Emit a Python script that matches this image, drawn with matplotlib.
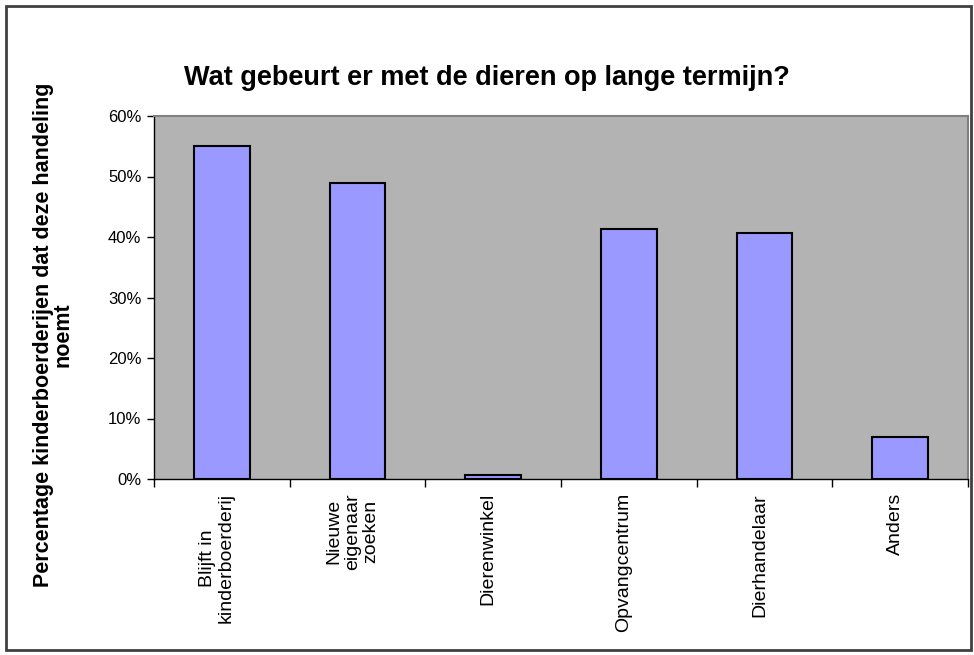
import matplotlib.pyplot as plt
from matplotlib.patches import Rectangle
from matplotlib.ticker import FuncFormatter, FixedLocator
from matplotlib.transforms import ScaledTranslation

plt.rcParams['font.family'] = ['Liberation Sans', 'DejaVu Sans']

categories = ['Blijft in\nkinderboerderij', 'Nieuwe\neigenaar\nzoeken', 'Dierenwinkel',
              'Opvangcentrum', 'Dierhandelaar', 'Anders']
percentages = [55.0, 48.9, 0.7, 41.3, 40.7, 6.9]

fig = plt.figure(figsize=(9.74, 6.55), dpi=100)
W, H = 974, 655
ax = fig.add_axes([154 / W, 1 - 479 / H, (968 - 154) / W, (479 - 116) / H])

x = range(len(categories))
ax.bar(x, [p / 100 for p in percentages], width=0.41, color='#9999ff',
       edgecolor='black', linewidth=1.5, zorder=3)

ax.set_facecolor('#b3b3b3')
ax.set_xlim(-0.5, len(categories) - 0.5)
ax.set_ylim(0, 0.6)
ax.set_yticks([i / 10 for i in range(7)])
ax.yaxis.set_major_formatter(FuncFormatter(lambda v, _: f'{v:.0%}'))
ax.tick_params(axis='y', labelsize=12, length=5, width=1, direction='out', pad=4)

ax.set_xticks(list(x))
ax.set_xticklabels(categories, rotation=90, fontsize=14, va='top', ha='center',
                   multialignment='center', linespacing=1.1)
ax.tick_params(axis='x', length=0, pad=10)
# Excel puts the labels a little left of the category centre
shift = ScaledTranslation(-5 / 100, 0, fig.dpi_scale_trans)
for lbl in ax.get_xticklabels():
    lbl.set_transform(lbl.get_transform() + shift)
ax.xaxis.set_minor_locator(FixedLocator([i - 0.5 for i in range(len(categories) + 1)]))
ax.tick_params(axis='x', which='minor', length=6, width=1, direction='out')

for side in ['top', 'right']:
    ax.spines[side].set_color('#808080')
    ax.spines[side].set_linewidth(1.5)
for side in ['left', 'bottom']:
    ax.spines[side].set_color('black')
    ax.spines[side].set_linewidth(1)

fig.text(0.5, 1 - 78 / H, 'Wat gebeurt er met de dieren op lange termijn?',
         ha='center', va='center', fontsize=19.5, fontweight='bold')
fig.text(53 / W, 1 - 335 / H, 'Percentage kinderboerderijen dat deze handeling\nnoemt',
         ha='center', va='center', rotation=90, fontsize=15.5, fontweight='bold',
         multialignment='center', linespacing=0.9)

# outer chart frame
fig.patches.append(Rectangle((6 / W, 1 - 650 / H), (971 - 6) / W, (650 - 6) / H,
                             transform=fig.transFigure, fill=False,
                             edgecolor='#404040', linewidth=2))

fig.savefig('out.png', dpi=100)
